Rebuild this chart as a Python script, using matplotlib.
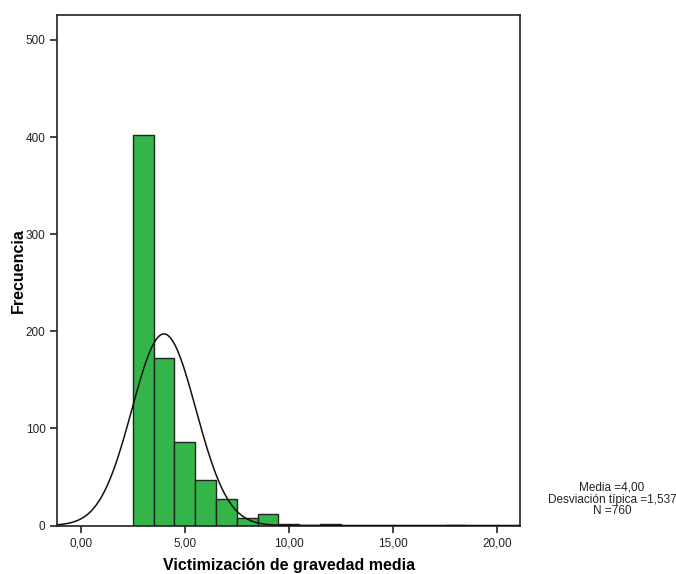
import numpy as np
import matplotlib.pyplot as plt

plt.rcParams['font.family'] = ['Liberation Sans', 'DejaVu Sans']

# Histogram bins (left edges, width 1) and counts
bin_left = [2.5, 3.5, 4.5, 5.5, 6.5, 7.5, 8.5, 9.5, 10.5, 11.5, 17.5]
counts = [402, 172, 86, 47, 27, 8, 12, 2, 1, 2, 1]
bin_width = 1.0

# Summary statistics shown on the chart
mean = 4.00
std = 1.537
n = 760

xticks = [0, 5, 10, 15, 20]
xtick_labels = ['0,00', '5,00', '10,00', '15,00', '20,00']
yticks = [0, 100, 200, 300, 400, 500]

fig = plt.figure(figsize=(6.76, 5.74), dpi=100)
ax = fig.add_axes([57.3 / 676, 1 - 525.5 / 574, (520 - 57.3) / 676, (525.5 - 14.7) / 574])

ax.bar(bin_left, counts, width=bin_width, align='edge',
       color='#33b54a', edgecolor='#222222', linewidth=1.0, zorder=2)

# Normal curve scaled to counts
xmin, xmax = -1.12, 21.1
xs = np.linspace(xmin, xmax, 500)
ys = n * bin_width / (std * np.sqrt(2 * np.pi)) * np.exp(-0.5 * ((xs - mean) / std) ** 2)
ax.plot(xs, ys, color='#111111', linewidth=1.1, zorder=3)

ax.set_xlim(xmin, xmax)
ax.set_ylim(0, 526)
ax.set_xticks(xticks)
ax.set_xticklabels(xtick_labels)
ax.set_yticks(yticks)
ax.tick_params(axis='both', labelsize=8.5, colors='#222222', length=5, width=1.2)

for sp in ax.spines.values():
    sp.set_linewidth(1.2)
    sp.set_color('#222222')

ax.set_xlabel('Victimización de gravedad media', fontsize=11.5, fontweight='bold', labelpad=6)
ax.set_ylabel('Frecuencia', fontsize=11.5, fontweight='bold', labelpad=0)

stats_text = 'Media =4,00\nDesviación típica =1,537\nN =760'
fig.text(612 / 676, 1 - 499.5 / 574, stats_text,
         ha='center', va='center', fontsize=8.5, linespacing=1.0, color='#222222')

fig.savefig('out.png', dpi=100)
